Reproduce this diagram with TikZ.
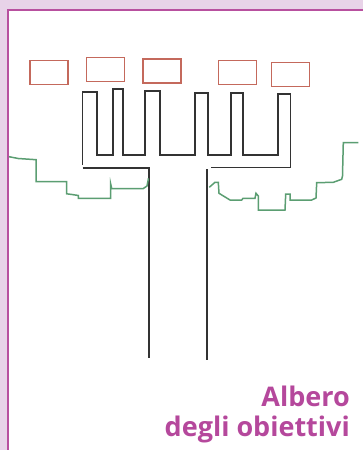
\documentclass[tikz,border=0pt]{standalone}
\usepackage{fontspec}
\setsansfont{Open Sans}
\usepackage{xcolor}
\usepackage{tikz}
\usetikzlibrary{positioning}

\definecolor{framepink}{HTML}{E8D3E8}
\definecolor{framemagenta}{HTML}{B8509F}
\definecolor{titlemagenta}{HTML}{B5489C}
\definecolor{goalred}{HTML}{C4695C}
\definecolor{rootgreen}{HTML}{5B9E72}
\definecolor{treeblack}{HTML}{333333}

\begin{document}
\begin{tikzpicture}[
    x=1pt, y=-1pt,
    goal/.style={
        rectangle,
        draw=goalred, line width=1.6pt,
        minimum width=38pt, minimum height=24pt,
        inner sep=0pt
    },
    tree/.style={draw=treeblack, line width=1.7pt, line join=miter},
    roots/.style={draw=rootgreen, line width=1.5pt},
    label/.style={
        font=\sffamily\bfseries\fontsize{27}{30}\selectfont,
        text=titlemagenta,
        align=right,
        inner sep=0pt
    }
]

% frame
\useasboundingbox (0,0) rectangle (363,450);
\fill[framepink] (0,0) rectangle (363,450);
\fill[white] (8,10) rectangle (363,450);
\draw[framemagenta, line width=2.6pt] (8,450) -- (8,10) -- (363,10);

% goals
\node[goal] (g1) at (49.2,72.5) {};
\node[goal] (g2) at (105.5,69.3) {};
\node[goal] (g3) at (161.8,71) {};
\node[goal] (g4) at (237.3,72.5) {};
\node[goal] (g5) at (290.3,74.3) {};

% branches
\draw[tree] (82.5,165) -- (82.5,91.7) -- (97.3,91.7) -- (97.3,155)
    -- (113.3,155) -- (113.3,89.3) -- (122.7,89.3) -- (122.7,155)
    -- (145,155) -- (145,91) -- (160,91) -- (160,155)
    -- (195,155) -- (195,92.7) -- (208.3,92.7) -- (208.3,155)
    -- (230.7,155) -- (230.7,92.7) -- (243.3,92.7) -- (243.3,155)
    -- (278.3,155) -- (278.3,94) -- (290.5,94) -- (290.5,167.5)
    -- (211,167.5);

% trunk
\draw[tree] (82.5,168.3) -- (149,168.3) -- (149,357.7);
\draw[tree] (206.7,169.3) -- (206.7,360);

% ground
\draw[roots] (9,156.7) -- (18.3,158.5) -- (36,159.7) -- (36,181.7)
    -- (66.7,181.7) -- (66.7,193.8) -- (72,194.5) -- (78.3,195.5)
    -- (78.3,198.3) -- (110.7,198.3) -- (110.7,184) -- (111.7,188.5)
    -- (143.3,188.5) -- (147,186) -- (148.5,178.3);
\draw[roots] (209.3,187.3) -- (215,182.3) -- (218.3,182.3) -- (219,193.3)
    -- (230,200) -- (241.7,200) -- (243,198.3) -- (255,198.3)
    -- (256,193.3) -- (258.3,196) -- (258.3,210) -- (285,210)
    -- (285.7,194) -- (290,194) -- (290,200) -- (311.7,200)
    -- (316,198) -- (316.7,182.7) -- (333.3,182.3) -- (341.7,179.3)
    -- (342.5,176) -- (343.3,142.5) -- (358.3,142.5);

% title
\node[label, anchor=north east] (title) at (350,386) {Albero\\degli obiettivi};

\end{tikzpicture}
\end{document}
